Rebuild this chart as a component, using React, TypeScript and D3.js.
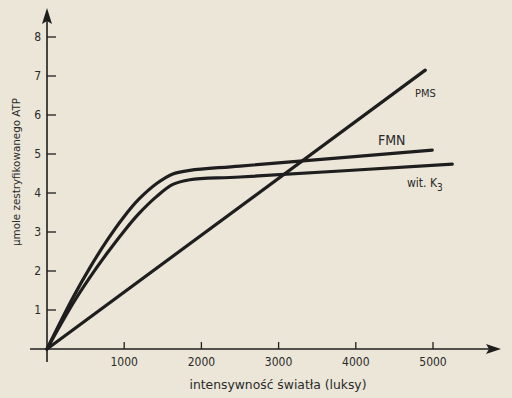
import React from "react";
import * as d3 from "d3";

const W = 512;
const H = 398;

const xTicks = [1000, 2000, 3000, 4000, 5000];
const yTicks = [1, 2, 3, 4, 5, 6, 7, 8];

const pmsX = [0, 4900];
const pmsY = [0, 7.15];

const fmnX = [0, 340, 560, 780, 985, 1190, 1425, 1630, 1850, 2500, 4990];
const fmnY = [0, 1.33, 2.1, 2.79, 3.36, 3.84, 4.25, 4.49, 4.58, 4.69, 5.1];

const k3X = [0, 340, 560, 780, 985, 1190, 1425, 1630, 1850, 2500, 5250];
const k3Y = [0, 1.18, 1.85, 2.46, 2.99, 3.47, 3.92, 4.22, 4.34, 4.41, 4.74];

const xLabel = "intensywność światła (luksy)";
const yLabel = "μmole zestryfikowanego ATP";

const FONT = "'DejaVu Sans Condensed', 'Liberation Sans Narrow', sans-serif";
const INK = "#1e1e1e";
const TXT = "#2a2a2a";

export default function App() {
  const x = d3.scaleLinear().domain([0, 5000]).range([47, 433]);
  const y = d3.scaleLinear().domain([0, 8]).range([349, 37]);

  const line = d3
    .line<[number, number]>()
    .x((d) => x(d[0]))
    .y((d) => y(d[1]))
    .curve(d3.curveCatmullRom.alpha(0.5));

  const zip = (a: number[], b: number[]) => a.map((v, i) => [v, b[i]] as [number, number]);

  const series = [zip(pmsX, pmsY), zip(fmnX, fmnY), zip(k3X, k3Y)];

  return (
    <svg
      width={W}
      height={H}
      style={{ position: "absolute", left: 0, top: 0 }}
      fontFamily={FONT}
    >
      <rect x={0} y={0} width={W} height={H} fill="#ebe6d8" />
      <line x1={30} y1={349} x2={492} y2={349} stroke={INK} strokeWidth={1.6} />
      <path d="M501,349 L486,344 L489,349 L486,354 Z" fill={INK} />
      <line x1={47} y1={362} x2={47} y2={18} stroke={INK} strokeWidth={1.6} />
      <path d="M47,8 L42,24 L47,21 L52,24 Z" fill={INK} />
      {xTicks.map((t) => (
        <g key={t}>
          <line x1={x(t)} y1={349} x2={x(t)} y2={342} stroke={INK} strokeWidth={1.3} />
          <text x={x(t)} y={366} textAnchor="middle" fontSize={12} fill={TXT}>
            {t}
          </text>
        </g>
      ))}
      {yTicks.map((t) => (
        <g key={t}>
          <line x1={47} y1={y(t)} x2={56} y2={y(t)} stroke={INK} strokeWidth={1.3} />
          <text x={41} y={y(t) + 4} textAnchor="end" fontSize={12} fill={TXT}>
            {t}
          </text>
        </g>
      ))}
      {series.map((s, i) => (
        <path
          key={i}
          d={line(s) || ""}
          fill="none"
          stroke={INK}
          strokeWidth={3.2}
          strokeLinecap="round"
        />
      ))}
      <text x={415} y={97} fontSize={11} fill={TXT}>PMS</text>
      <text x={378} y={145} fontSize={14} fill={TXT}>FMN</text>
      <text x={407} y={187} fontSize={12} fill={TXT}>
        wit. K<tspan fontSize={10} dy={4}>3</tspan>
      </text>
      <text
        x={278}
        y={389}
        textAnchor="middle"
        fontSize={13}
        fill={TXT}
        textLength={177}
        lengthAdjust="spacingAndGlyphs"
      >
        {xLabel}
      </text>
      <text
        transform="translate(20,172) rotate(-90)"
        textAnchor="middle"
        fontSize={11}
        fill={TXT}
        textLength={148}
        lengthAdjust="spacingAndGlyphs"
      >
        {yLabel}
      </text>
    </svg>
  );
}
